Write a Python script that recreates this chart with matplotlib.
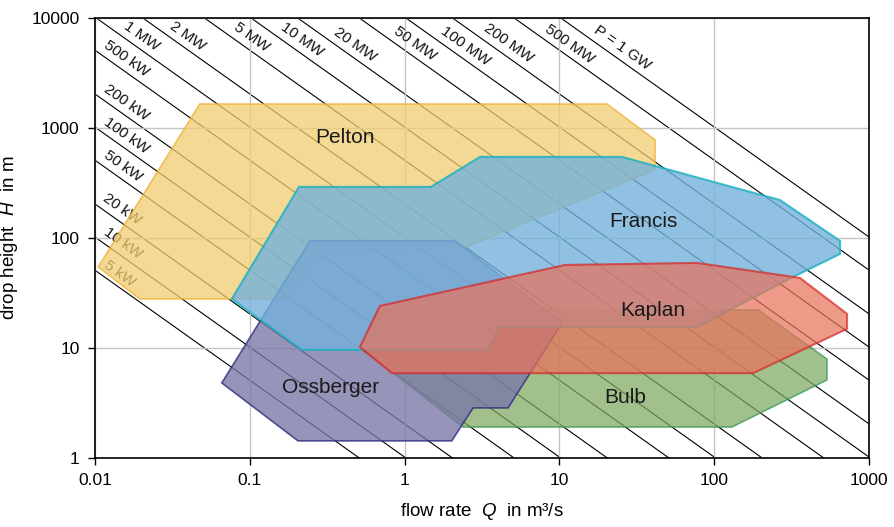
import matplotlib
matplotlib.use("Agg")
import matplotlib.pyplot as plt
import numpy as np

plt.rcParams['font.family'] = ['Liberation Sans', 'DejaVu Sans']
plt.rcParams['mathtext.fontset'] = 'custom'
plt.rcParams['mathtext.it'] = 'Liberation Sans:italic'
plt.rcParams['mathtext.rm'] = 'Liberation Sans'

# power lines P = rho*g*Q*H (kW)
powers_kw = [5, 10, 20, 50, 100, 200, 500, 1e3, 2e3, 5e3, 1e4, 2e4, 5e4, 1e5, 2e5, 5e5, 1e6]
power_labels = ['5 kW', '10 kW', '20 kW', '50 kW', '100 kW', '200 kW', '500 kW',
                '1 MW', '2 MW', '5 MW', '10 MW', '20 MW', '50 MW', '100 MW',
                '200 MW', '500 MW', 'P = 1 GW']
label_q = [0.0145, 0.0152, 0.0149, 0.0152, 0.0161, 0.0161, 0.0161,
           0.0201, 0.0399, 0.103, 0.217, 0.478, 1.17, 2.46, 4.66, 11.7, 25.4]

# turbine ranges (Q in m3/s, H in m)
pelton_q = [0.0476, 20.3, 41.5, 41.5, 2.38, 0.284, 0.182, 0.0195, 0.0105]
pelton_h = [1650, 1650, 778, 415, 81, 79, 27.9, 27.9, 54.5]

francis_q = [0.0767, 0.217, 3.41, 4.13, 77.4, 323, 650, 650, 266, 25.4, 3.07, 1.48, 0.208]
francis_h = [27.9, 9.6, 9.6, 15.5, 15.5, 44.2, 71.6, 94, 221, 545, 545, 291, 291]

kaplan_q = [0.693, 10.9, 77.4, 358, 721, 721, 178, 0.83, 0.515]
kaplan_h = [24.1, 56.8, 59.3, 43.3, 20.4, 14.9, 5.9, 5.9, 10.2]

bulb_q = [0.693, 192, 535, 535, 130, 2.38, 0.515]
bulb_h = [22.2, 22.2, 7.94, 5.12, 1.91, 1.91, 10.2]

ossberger_q = [0.245, 2.12, 10.4, 4.66, 2.77, 2.02, 0.205, 0.066]
ossberger_h = [94, 94, 16.9, 2.85, 2.85, 1.43, 1.43, 4.81]

region_names = ['Pelton', 'Francis', 'Kaplan', 'Bulb', 'Ossberger']
region_q = [0.41, 34.7, 40.3, 26.5, 0.335]
region_h = [811, 140, 21.7, 3.58, 4.33]

fig = plt.figure(figsize=(8.95, 5.27), dpi=100)
ax = fig.add_axes([0.106, 0.131, 0.865, 0.835])
ax.set_xscale('log')
ax.set_yscale('log')
ax.set_xlim(0.01, 1000)
ax.set_ylim(1, 10000)

ax.grid(True, which='major', color='#c4c4c4', lw=1.0, zorder=0)
ax.minorticks_off()

q = np.logspace(-2, 3, 50)
for p in powers_kw:
    ax.plot(q, p / (9.81 * q), color='black', lw=0.8, zorder=1)

for p, lab, lq in zip(powers_kw, power_labels, label_q):
    ax.annotate(lab, (lq, p / (9.81 * lq)), xytext=(0, 10), textcoords='offset points',
                rotation=-35.4, ha='center', va='center', fontsize=11,
                rotation_mode='anchor', color='#111111', zorder=2)

ax.fill(pelton_q, pelton_h, facecolor='#f0cd70', alpha=0.75, edgecolor='#f0b030', lw=1.2, zorder=3)
ax.fill(bulb_q, bulb_h, facecolor='#7fa860', alpha=0.72, edgecolor='#2e9a50', lw=1.2, zorder=4)
ax.fill(ossberger_q, ossberger_h, facecolor='#7a76a6', alpha=0.78, edgecolor='#2c2a80', lw=1.2, zorder=5)
ax.fill(francis_q, francis_h, facecolor='#74b2db', alpha=0.8, edgecolor='#18b0c0', lw=1.5, zorder=6)
ax.fill(kaplan_q, kaplan_h, facecolor='#e8735c', alpha=0.72, edgecolor='#d42a2a', lw=1.5, zorder=7)

for name, rq, rh in zip(region_names, region_q, region_h):
    ax.text(rq, rh, name, ha='center', va='center', fontsize=15, color='#1a1a1a', zorder=8)

ax.set_xticks([0.01, 0.1, 1, 10, 100, 1000])
ax.set_xticklabels(['0.01', '0.1', '1', '10', '100', '1000'])
ax.set_yticks([1, 10, 100, 1000, 10000])
ax.set_yticklabels(['1', '10', '100', '1000', '10000'])
ax.tick_params(labelsize=12.5, direction='out', length=5, width=1, pad=6)

ax.set_xlabel(r'flow rate  $Q$  in m³/s', fontsize=13.5, labelpad=9)
ax.set_ylabel(r'drop height  $H$  in m', fontsize=13.5, labelpad=8)

for s in ax.spines.values():
    s.set_linewidth(1.2)
    s.set_zorder(10)

fig.savefig('out.png', dpi=100)
